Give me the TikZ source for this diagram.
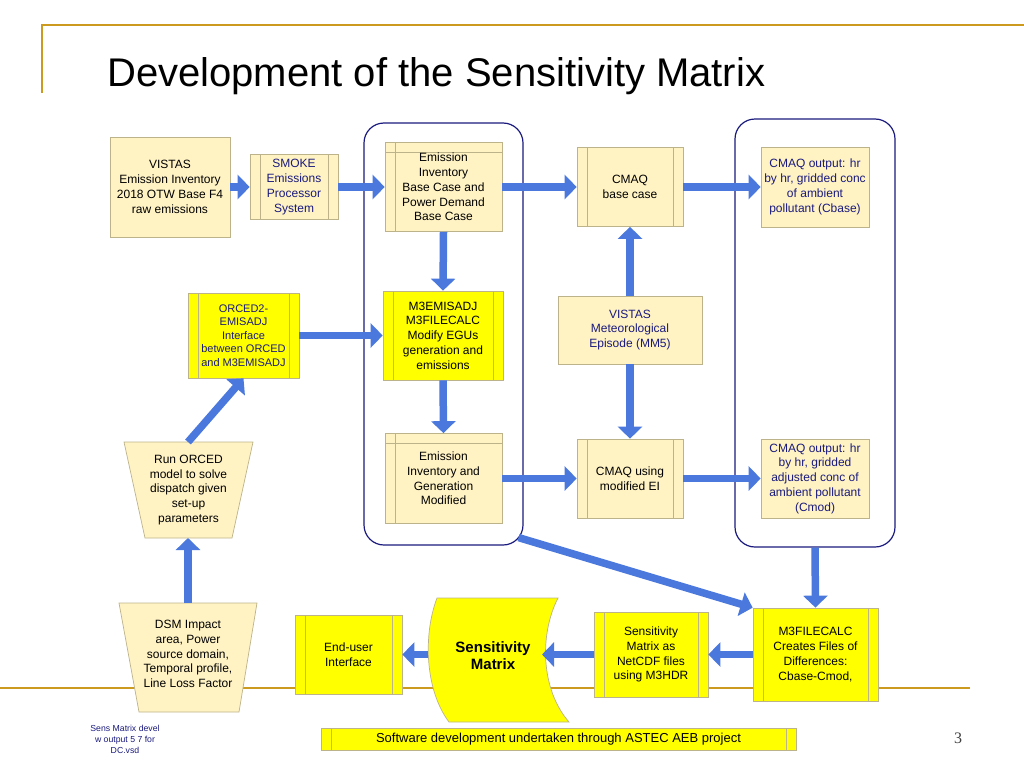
\documentclass[tikz,border=0pt]{standalone}
\usepackage{fontspec}
\usepackage{xcolor}
\usetikzlibrary{arrows.meta}
\usetikzlibrary{calc}
\newfontfamily\smsans{Liberation Sans}
\newfontfamily\smserif{Liberation Serif}
\definecolor{smGold}{HTML}{CC9A1E}
\definecolor{smBlue}{HTML}{4A78DC}
\definecolor{smCream}{HTML}{FFF3C4}
\definecolor{smYellow}{HTML}{FFFF00}
\definecolor{smEdge}{HTML}{BDB38A}
\definecolor{smNavy}{HTML}{1A1A7E}
\tikzset{
  sm box/.style={
    rectangle,
    draw=smEdge,
    line width=0.7pt,
    fill=smCream,
    text=black,
    align=center,
    inner sep=1pt,
    font=\smsans\fontsize{12}{14.8}\selectfont,
  },
}
\tikzset{
  sm proc/.style={
    sm box,
    path picture={
      \draw[smEdge, line width=0.7pt]
        ([xshift=10pt]path picture bounding box.north west)
        -- ([xshift=10pt]path picture bounding box.south west);
      \draw[smEdge, line width=0.7pt]
        ([xshift=-10pt]path picture bounding box.north east)
        -- ([xshift=-10pt]path picture bounding box.south east);
    },
  },
}
\tikzset{
  sm store/.style={
    sm box,
    path picture={
      \draw[smEdge, line width=0.7pt]
        ([xshift=10pt]path picture bounding box.north west)
        -- ([xshift=10pt]path picture bounding box.south west);
      \draw[smEdge, line width=0.7pt]
        ([yshift=-10pt]path picture bounding box.north west)
        -- ([yshift=-10pt]path picture bounding box.north east);
    },
  },
}
\tikzset{
  sm group/.style={
    rectangle,
    draw=smNavy,
    line width=1.2pt,
    rounded corners=20pt,
  },
}
\tikzset{
  sm flow/.style={
    -{Triangle[length=12pt, width=24pt]},
    draw=smBlue,
    line width=7.5pt,
  },
}
\tikzset{
  sm figure/.style={
    x=1pt, y=-1pt,
  },
}
\begin{document}
\begin{tikzpicture}[sm figure]

  \useasboundingbox (0,0) rectangle (1024,768);

  % =========================================================================
  % slide frame and title
  % =========================================================================
  \draw[smGold, line width=2pt] (42,93) -- (42,25) -- (1024,25);
  \draw[smGold, line width=2pt] (0,688) -- (970,688);
  \node[font=\smsans\fontsize{40}{44}\selectfont, anchor=base west, inner sep=0pt]
    (title) at (107,86) {Development of the Sensitivity Matrix};

  % =========================================================================
  % the two grouping frames
  % =========================================================================
  \node[sm group, minimum width=159pt, minimum height=422pt]
    (grpA) at (443.5,334) {};
  \node[sm group, minimum width=160pt, minimum height=428pt]
    (grpB) at (815,333) {};

  % =========================================================================
  % top row: raw emissions -> SMOKE -> base case -> CMAQ -> Cbase
  % =========================================================================
  \node[sm box, minimum width=120pt, minimum height=100pt]
    (raw) at (170,187) {VISTAS\\Emission Inventory\\2018 OTW Base F4\\raw emissions};
  \node[sm proc, minimum width=88pt, minimum height=65pt, text=smNavy]
    (smoke) at (294,187) {SMOKE\\Emissions\\Processor\\System};
  \node[sm store, minimum width=117pt, minimum height=89pt]
    (eibase) at (443.5,187) {Emission\\Inventory\\Base Case and\\Power Demand\\Base Case};
  \node[sm proc, minimum width=106pt, minimum height=79pt]
    (cmaqbase) at (630,187) {CMAQ\\base case};
  \node[sm box, minimum width=108pt, minimum height=80pt, text=smNavy]
    (cbase) at (815,187) {CMAQ output: hr\\by hr, gridded conc\\of ambient\\pollutant (Cbase)};

  % =========================================================================
  % middle row
  % =========================================================================
  \node[sm proc, fill=smYellow, minimum width=111pt, minimum height=85pt, text=smNavy,
        font=\smsans\fontsize{11}{13.5}\selectfont]
    (orced2) at (243.5,335.5) {ORCED2-\\EMISADJ\\Interface\\between ORCED\\and M3EMISADJ};
  \node[sm proc, fill=smYellow, minimum width=120pt, minimum height=89pt]
    (m3adj) at (443,335.5) {M3EMISADJ\\M3FILECALC\\Modify EGUs\\generation and\\emissions};
  \node[sm box, minimum width=144pt, minimum height=68pt, text=smNavy]
    (met) at (630,330) {VISTAS\\Meteorological\\Episode (MM5)};

  % =========================================================================
  % modified row
  % =========================================================================
  \node[sm store, minimum width=117pt, minimum height=90pt]
    (eimod) at (443.5,478.5) {Emission\\Inventory and\\Generation\\Modified};
  \node[sm proc, minimum width=106pt, minimum height=79pt]
    (cmaqmod) at (630,478.5) {CMAQ using\\modified EI};
  \node[sm box, minimum width=108pt, minimum height=79pt, text=smNavy]
    (cmod) at (815,478.5) {CMAQ output: hr\\by hr, gridded\\adjusted conc of\\ambient pollutant\\(Cmod)};

  % =========================================================================
  % ORCED and DSM (manual trapezoids, wide side up)
  % =========================================================================
  \draw[draw=smEdge, line width=0.7pt, fill=smCream]
    (124,442) -- (253,442) -- (232,538) -- (145,538) -- cycle;
  \node[sm box, draw=none, fill=none]
    (orced) at (188.5,490) {Run ORCED\\model to solve\\dispatch given\\set-up\\parameters};
  \coordinate (orced top) at (188,442);
  \coordinate (orced bot) at (188,538);

  \draw[draw=smEdge, line width=0.7pt, fill=smCream]
    (119,603) -- (257,603) -- (239,712) -- (139,712) -- cycle;
  \node[sm box, draw=none, fill=none]
    (dsm) at (188,654) {DSM Impact\\area, Power\\source domain,\\Temporal profile,\\Line Loss Factor};
  \coordinate (dsm top) at (188,603);

  % =========================================================================
  % bottom row
  % =========================================================================
  \node[sm proc, fill=smYellow, minimum width=107pt, minimum height=79pt]
    (enduser) at (348.5,654.5) {End-user\\Interface};

  % stored data shape (curved left and right sides)
  \draw[draw=smEdge, line width=0.7pt, fill=smYellow]
    (437,598) -- (558,598)
    .. controls (539,635) and (541,690) .. (569,722)
    -- (449,722)
    .. controls (425,690) and (423,635) .. (437,598) -- cycle;
  \node[font=\smsans\bfseries\fontsize{15}{17}\selectfont, align=center]
    (sensmat) at (493,656) {Sensitivity\\Matrix};
  \coordinate (sm west) at (428,654.5);
  \coordinate (sm east) at (542,654.5);

  \node[sm proc, fill=smYellow, minimum width=114pt, minimum height=85pt]
    (netcdf) at (651,654.5) {Sensitivity\\Matrix as\\NetCDF files\\using M3HDR};
  \node[sm proc, fill=smYellow, minimum width=125pt, minimum height=93pt]
    (filecalc) at (815.5,654.5) {M3FILECALC\\Creates Files of\\Differences:\\Cbase-Cmod,};

  % =========================================================================
  % footer
  % =========================================================================
  \node[sm proc, fill=smYellow, minimum width=475pt, minimum height=22pt,
        font=\smsans\fontsize{13}{15}\selectfont]
    (astec) at (558.5,739) {Software development undertaken through ASTEC AEB project};
  \node[font=\smsans\fontsize{8.7}{11}\selectfont, text=smNavy, align=center]
    (vsdnote) at (125,739) {Sens Matrix devel\\w output 5 7 for\\DC.vsd};
  \node[font=\smserif\fontsize{16}{18}\selectfont, text=black!75]
    (pagenum) at (958,738) {3};

  % =========================================================================
  % flow arrows
  % =========================================================================
  \draw[sm flow] (raw.east) -- (smoke.west);
  \draw[sm flow] (smoke.east) -- (eibase.west);
  \draw[sm flow] (eibase.east) -- (cmaqbase.west);
  \draw[sm flow] (cmaqbase.east) -- (cbase.west);
  \draw[sm flow] (eibase.south) -- (m3adj.north);
  \draw[sm flow] (m3adj.south) -- (eimod.north);
  \draw[sm flow] (orced2.east) -- (m3adj.west);
  \draw[sm flow] (met.north) -- (cmaqbase.south);
  \draw[sm flow] (met.south) -- (cmaqmod.north);
  \draw[sm flow] (eimod.east) -- (cmaqmod.west);
  \draw[sm flow] (cmaqmod.east) -- (cmod.west);
  \draw[sm flow] (dsm top) -- (orced bot);
  \draw[sm flow] (orced top) -- (orced2.south);
  \draw[sm flow] ([xshift=-5pt,yshift=8pt]grpA.south east) -- (filecalc.north west);
  \draw[sm flow] (grpB.south) -- (filecalc.north);
  \draw[sm flow] (filecalc.west) -- (netcdf.east);
  \draw[sm flow] (netcdf.west) -- (sm east);
  \draw[sm flow] (sm west) -- (enduser.east);

\end{tikzpicture}
\end{document}
